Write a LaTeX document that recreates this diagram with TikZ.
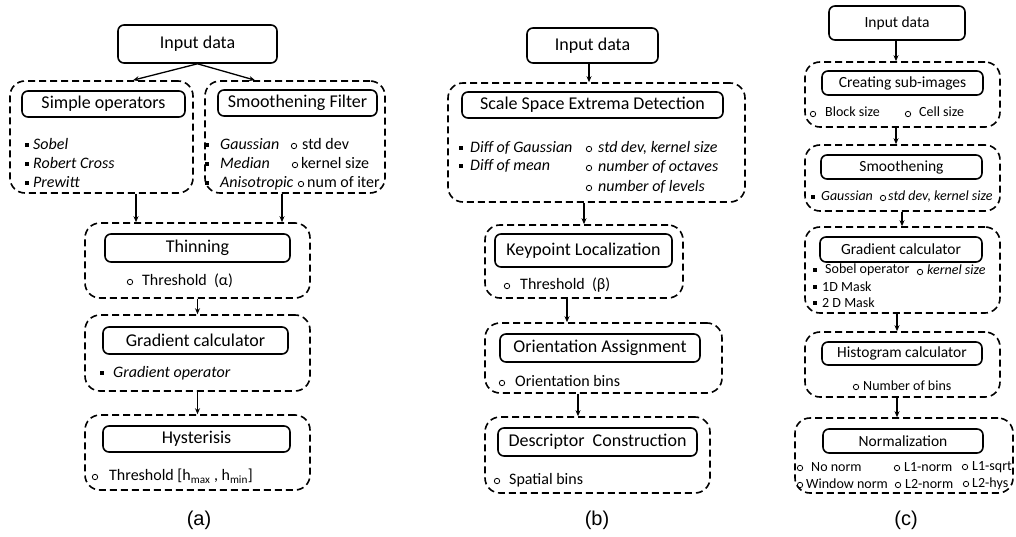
\documentclass[tikz,border=0pt]{standalone}
\usepackage{fontspec}
\setmainfont{Carlito}
\newfontfamily\labfont{Liberation Sans}
\usetikzlibrary{arrows.meta}
\tikzset{
 solidbox/.style={draw, rounded corners=6pt, line width=1.6pt, inner sep=0pt, font=\fontsize{18}{20}\selectfont},
 solidc/.style={solidbox, font=\fontsize{15.5}{17}\selectfont},
 dashbox/.style={draw, dash pattern=on 7pt off 4pt, rounded corners=15pt, line width=1.6pt, inner sep=0pt},
 arr/.style={-{Stealth[length=6pt,width=5pt]}, line width=1.3pt},
 itm/.style={anchor=base west, yshift=-4.5pt, inner sep=0pt, font=\fontsize{16}{18}\selectfont},
 itmi/.style={itm, font=\fontsize{16}{18}\selectfont\itshape},
 itc/.style={anchor=base west, yshift=-4pt, inner sep=0pt, font=\fontsize{14}{16}\selectfont},
 itci/.style={itc, font=\fontsize{14}{16}\selectfont\itshape},
 sym/.style={line width=0.8pt},
 lab/.style={font=\labfont\fontsize{20}{22}\selectfont},
}
\newcommand\bx[7]{\node[#1, minimum width={#5pt-#3pt}, minimum height={#6pt-#4pt}] (#2) at ({(#3+#5)/2},{(#4+#6)/2}) {#7};}
\newcommand\oc[2]{\draw[sym] (#1,#2) circle (2.7);}
\newcommand\sq[2]{\fill (#1,#2) ++(-2.2,-2.2) rectangle ++(4.4,4.4);}
\begin{document}
\begin{tikzpicture}[x=1pt,y=-1pt]
\useasboundingbox (0,0) rectangle (1016,537);
% ---------------- panel (a)
\bx{solidbox}{inA}{118}{25}{277}{63}{Input data}
\bx{dashbox}{dSimple}{10}{81}{193}{193}{}
\bx{solidbox}{iSimple}{22}{91}{185}{117}{Simple operators}
\bx{dashbox}{dSmooth}{205}{81}{385}{193}{}
\bx{solidbox}{iSmooth}{218}{90}{377}{116}{Smoothening Filter}
\sq{27}{145}\sq{27}{164}\sq{27}{183}
\node[itmi] (a1) at (33,145) {Sobel};
\node[itmi] (a2) at (33,164) {Robert Cross};
\node[itmi] (a3) at (33,183) {Prewitt};
\sq{207}{145}\sq{207}{164}\sq{207}{183}
\node[itmi] (a4) at (220,145) {Gaussian};
\node[itmi] (a5) at (220,164) {Median};
\node[itmi] (a6) at (220,183) {Anisotropic};
\oc{294}{146}\oc{295}{165}\oc{301}{184}
\node[itm] (a7) at (302,145) {std dev};
\node[itm] (a8) at (301,164) {kernel size};
\node[itm] (a9) at (307,183) {num of iter};
\bx{dashbox}{dThin}{85}{223}{310}{298}{}
\bx{solidbox}{iThin}{105}{234}{290}{262}{Thinning}
\oc{130}{282}
\node[itm] (a10) at (142,281) {Threshold\ \ (α)};
\bx{dashbox}{dGrad}{85}{315}{310}{391}{}
\bx{solidbox}{iGrad}{103}{327}{288}{354}{Gradient calculator}
\sq{102}{373}
\node[itmi] (a11) at (113,373) {Gradient operator};
\bx{dashbox}{dHys}{85}{415}{310}{490}{}
\bx{solidbox}{iHys}{103}{426}{290}{452}{Hysterisis}
\oc{95}{477}
\node[itm] (a12) at (109,476) {Threshold [h\textsubscript{max} , h\textsubscript{min}]};
\node[lab] (la) at (199,520) {(a)};
\draw[arr] (inA.south) -- ([xshift=31.5pt]dSimple.north);
\draw[arr] (inA.south) -- ([xshift=-40pt]dSmooth.north);
\coordinate (s1) at (136,193);
\coordinate (s2) at (282,193);
\draw[arr] (dSimple.south -| s1) -- (s1 |- dThin.north);
\draw[arr] (dSmooth.south -| s2) -- (s2 |- dThin.north);
\draw[arr] (dThin.south) -- (dGrad.north);
\draw[arr] (dGrad.south) -- (dHys.north);
% ---------------- panel (b)
\bx{solidbox}{inB}{527}{28}{658}{63}{Input data}
\bx{dashbox}{dScale}{448}{83}{745}{202}{}
\bx{solidbox}{iScale}{462}{92}{723}{118}{Scale Space Extrema Detection}
\sq{461}{148}\sq{461}{166}
\node[itmi] (b1) at (470,148) {Diff of Gaussian};
\node[itmi] (b2) at (470,166) {Diff of mean};
\oc{589}{149}\oc{589}{168}\oc{589}{188}
\node[itmi] (b3) at (598,148) {std dev, kernel size};
\node[itmi] (b4) at (598,167) {number of octaves};
\node[itmi] (b5) at (598,187) {number of levels};
\bx{dashbox}{dKey}{485}{225}{683}{298}{}
\bx{solidbox}{iKey}{495}{234}{672}{267}{Keypoint Localization}
\oc{507}{286}
\node[itm] (b6) at (520,285) {Threshold\ \ (β)};
\bx{dashbox}{dOri}{485}{323}{722}{393}{}
\bx{solidbox}{iOri}{500}{334}{700}{362}{Orientation Assignment}
\oc{502}{383}
\node[itm] (b7) at (515,382) {Orientation bins};
\bx{dashbox}{dDes}{485}{417}{710}{493}{}
\bx{solidbox}{iDes}{498}{428}{697}{456}{Descriptor\ \ Construction}
\oc{497}{481}
\node[itm] (b8) at (509,480) {Spatial bins};
\node[lab] (lb) at (597,520) {(b)};
\coordinate (s3) at (589,63);
\draw[arr] (inB.south -| s3) -- (s3 |- dScale.north);
\coordinate (s4) at (584,202);
\draw[arr] (dScale.south -| s4) -- (s4 |- dKey.north);
\coordinate (s5) at (567,298);
\draw[arr] (dKey.south -| s5) -- (s5 |- dOri.north);
\coordinate (s6) at (578,393);
\draw[arr] (dOri.south -| s6) -- (s6 |- dDes.north);
% ---------------- panel (c)
\bx{solidc}{inC}{829}{6}{965}{40}{Input data}
\bx{dashbox}{dSub}{805}{62}{1000}{127}{}
\bx{solidc}{iSub}{822}{71}{983}{95}{Creating sub-images}
\oc{813}{114}\oc{908}{114}
\node[itc] (c1) at (825,113) {Block size};
\node[itc] (c2) at (919,113) {Cell size};
\bx{dashbox}{dSmo}{805}{145}{1000}{211}{}
\bx{solidc}{iSmo}{821}{155}{982}{179}{Smoothening}
\sq{813}{197}\oc{883}{198}
\node[itci] (c3) at (821,197) {Gaussian};
\node[itci] (c4) at (888,197) {std dev, kernel size};
\bx{dashbox}{dGr}{805}{227}{1000}{313}{}
\bx{solidc}{iGr}{820}{237}{982}{262}{Gradient calculator}
\sq{815}{270}\sq{815}{287}\sq{815}{303}
\node[itc] (c5) at (825,269) {Sobel operator};
\oc{920}{272}
\node[itci] (c6) at (927,270) {kernel size};
\node[itc] (c7) at (822,287) {1D Mask};
\node[itc] (c8) at (822,303) {2 D Mask};
\bx{dashbox}{dHis}{805}{332}{1000}{397}{}
\bx{solidc}{iHis}{822}{342}{982}{365}{Histogram calculator}
\oc{856}{387}
\node[itc] (c9) at (863,386) {Number of bins};
\bx{dashbox}{dNor}{795}{418}{1013}{493}{}
\bx{solidc}{iNor}{823}{429}{983}{453}{Normalization}
\oc{800}{468}\oc{897}{468}\oc{965}{467}
\oc{800}{485}\oc{898}{485}\oc{966}{484}
\node[itc] (c10) at (811,467) {No norm};
\node[itc] (c11) at (904,467) {L1-norm};
\node[itc] (c12) at (972,466) {L1-sqrt};
\node[itc] (c13) at (806,484) {Window norm};
\node[itc] (c14) at (905,484) {L2-norm};
\node[itc] (c15) at (972,483) {L2-hys};
\node[lab] (lc) at (906,520) {(c)};
\coordinate (s7) at (896,40);
\draw[arr] (inC.south -| s7) -- (s7 |- dSub.north);
\coordinate (s8) at (896,127);
\draw[arr] (dSub.south -| s8) -- (s8 |- dSmo.north);
\coordinate (s9) at (902,211);
\draw[arr] (dSmo.south -| s9) -- (s9 |- dGr.north);
\coordinate (s10) at (897,313);
\draw[arr] (dGr.south -| s10) -- (s10 |- dHis.north);
\coordinate (s11) at (897,397);
\draw[arr] (dHis.south -| s11) -- (s11 |- dNor.north);
\end{tikzpicture}
\end{document}
